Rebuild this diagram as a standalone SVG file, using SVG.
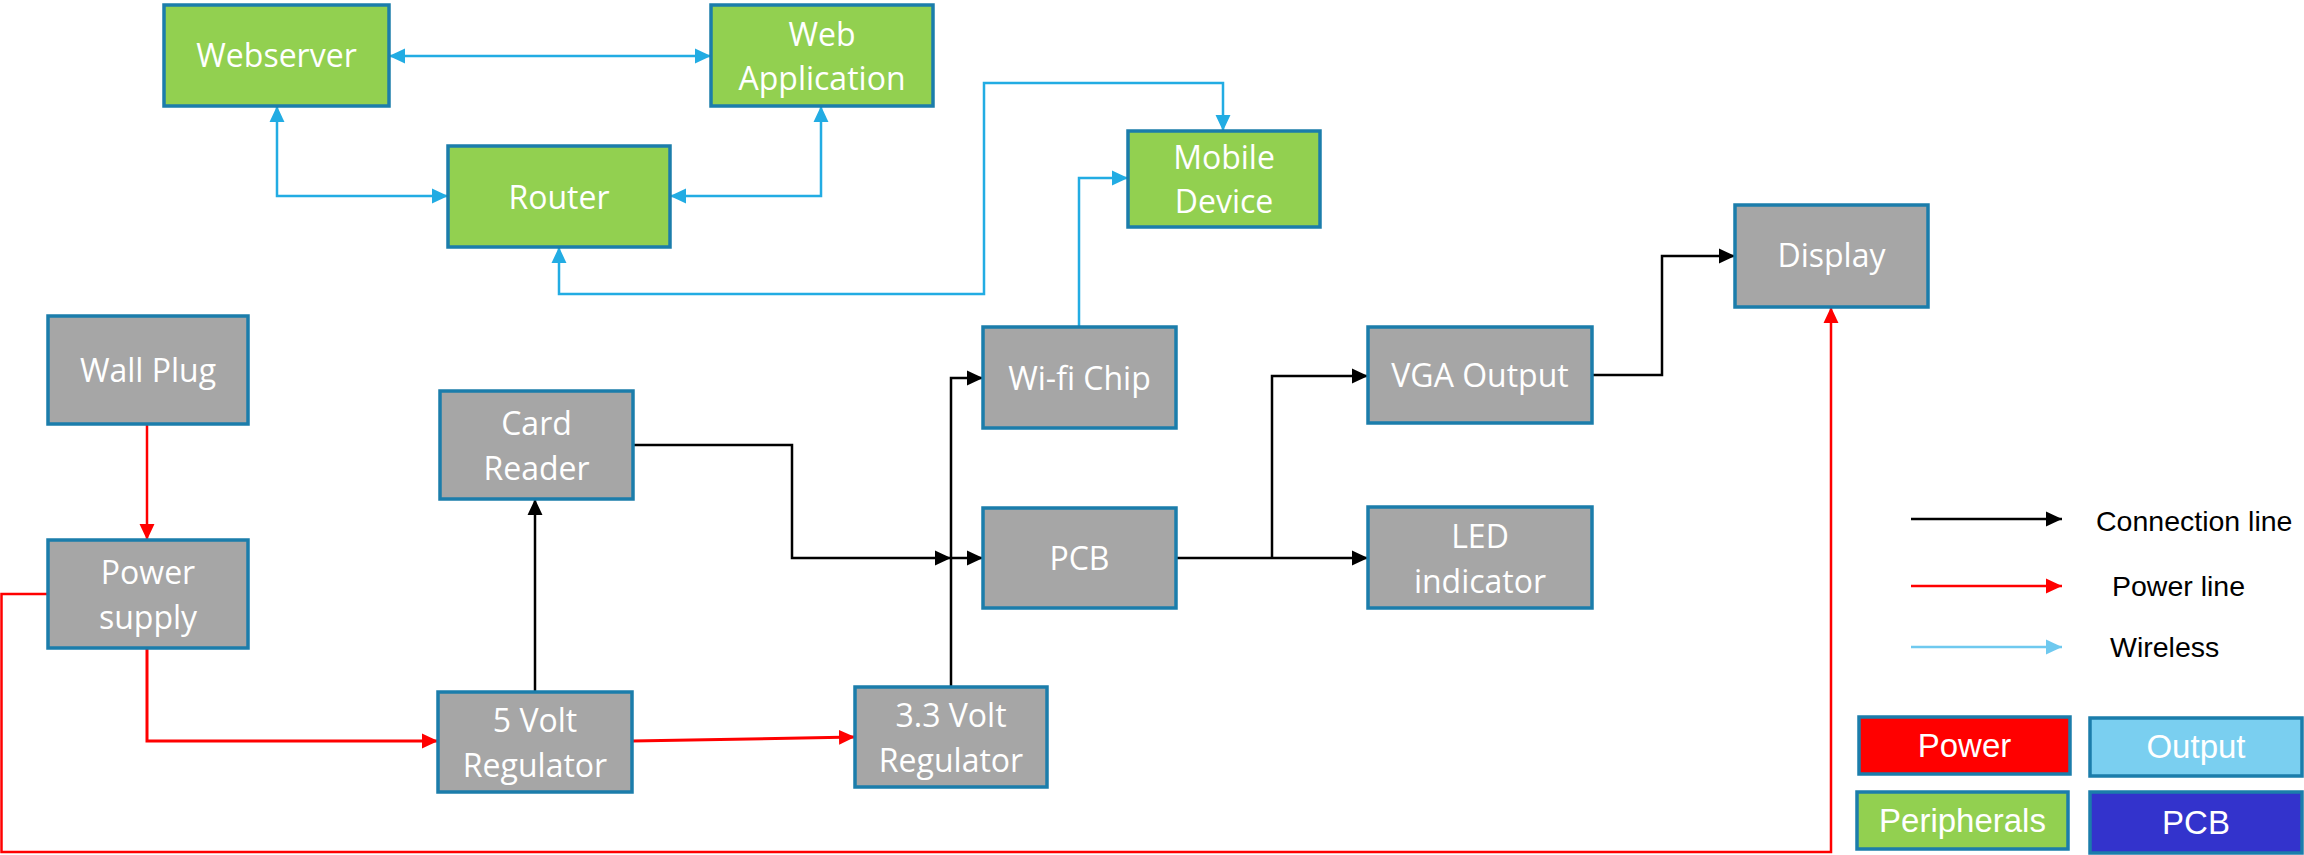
<svg xmlns="http://www.w3.org/2000/svg" width="2304" height="855" viewBox="0 0 2304 855">
<style>
.box{stroke:#1b7dab;stroke-width:3.5}
.grey{fill:#a6a6a6}
.green{fill:#92d050}
.nt{font-family:"Open Sans","Noto Sans",sans-serif;font-size:32px;fill:#ffffff;text-anchor:middle}
.lt{font-family:"Liberation Sans",Arial,sans-serif;font-size:28.5px;fill:#000000}
.kt{font-family:"Liberation Sans",Arial,sans-serif;font-size:33px;fill:#ffffff;text-anchor:middle}
.c{fill:none;stroke-linejoin:miter}
.bk{stroke:#000000;stroke-width:2.5;marker-end:url(#ak)}
.rd{stroke:#ff0000;stroke-width:2.5;marker-end:url(#ar)}
.bl{stroke:#22ace3;stroke-width:2.5;marker-end:url(#ab)}
.bl2{stroke:#22ace3;stroke-width:2.5;marker-end:url(#ab);marker-start:url(#ab)}
</style>
<defs>
<marker id="ak" markerUnits="userSpaceOnUse" markerWidth="16" markerHeight="16" viewBox="0 0 15 14" refX="15" refY="7" orient="auto-start-reverse"><path d="M0,0 L15,7 L0,14 Z" fill="#000000"/></marker>
<marker id="ar" markerUnits="userSpaceOnUse" markerWidth="16" markerHeight="16" viewBox="0 0 15 14" refX="15" refY="7" orient="auto-start-reverse"><path d="M0,0 L15,7 L0,14 Z" fill="#ff0000"/></marker>
<marker id="ab" markerUnits="userSpaceOnUse" markerWidth="16" markerHeight="16" viewBox="0 0 15 14" refX="15" refY="7" orient="auto-start-reverse"><path d="M0,0 L15,7 L0,14 Z" fill="#22ace3"/></marker>
<marker id="alb" markerUnits="userSpaceOnUse" markerWidth="16" markerHeight="16" viewBox="0 0 15 14" refX="15" refY="7" orient="auto"><path d="M0,0 L15,7 L0,14 Z" fill="#6fc9ef"/></marker>
</defs>
<rect width="2304" height="855" fill="#ffffff"/>

<g id="connectors">
<path class="c bl2" d="M389,56 H711"/>
<path class="c bl2" d="M277,106 V196 H448"/>
<path class="c bl2" d="M821,106 V196 H670"/>
<path class="c bl2" d="M559,247 V294 H984 V83 H1223 V131"/>
<path class="c bl" d="M1079,327 V178 H1128"/>
<path class="c bk" d="M535,692 V499"/>
<path class="c bk" d="M633,445 H792 V558 H951"/>
<path class="c bk" d="M951,687 V378 H983"/>
<path class="c bk" d="M951,558 H983"/>
<path class="c bk" d="M1176,558 H1368"/>
<path class="c bk" d="M1272,558 V376 H1368"/>
<path class="c bk" d="M1592,375 H1662 V256 H1735"/>
<path class="c rd" d="M147,424 V540"/>
<path class="c rd" d="M147,648 V741 H438" style="stroke-width:3"/>
<path class="c rd" d="M632,741 L855,737" style="stroke-width:3"/>
<path class="c rd" d="M48,594 H1.5 V852 H1831 V307"/>
</g>

<g id="webserver"><rect class="box green" x="164" y="5" width="225" height="101"/><text class="nt" x="276.5" y="67">Webserver</text></g>
<g id="web-application"><rect class="box green" x="711" y="5" width="222" height="101"/><text class="nt" x="822" y="45.5">Web</text><text class="nt" x="822" y="90">Application</text></g>
<g id="router"><rect class="box green" x="448" y="146" width="222" height="101"/><text class="nt" x="559" y="208.5">Router</text></g>
<g id="mobile-device"><rect class="box green" x="1128" y="131" width="192" height="96"/><text class="nt" x="1224" y="168.5">Mobile</text><text class="nt" x="1224" y="213">Device</text></g>
<g id="display"><rect class="box grey" x="1735" y="205" width="193" height="102"/><text class="nt" x="1831.5" y="267">Display</text></g>
<g id="wall-plug"><rect class="box grey" x="48" y="316" width="200" height="108"/><text class="nt" x="148" y="382">Wall Plug</text></g>
<g id="power-supply"><rect class="box grey" x="48" y="540" width="200" height="108"/><text class="nt" x="148" y="584">Power</text><text class="nt" x="148" y="628.5">supply</text></g>
<g id="card-reader"><rect class="box grey" x="440" y="391" width="193" height="108"/><text class="nt" x="536.5" y="434.5">Card</text><text class="nt" x="536.5" y="479.5">Reader</text></g>
<g id="regulator-5v"><rect class="box grey" x="438" y="692" width="194" height="100"/><text class="nt" x="535" y="731.5">5 Volt</text><text class="nt" x="535" y="776.5">Regulator</text></g>
<g id="regulator-3v3"><rect class="box grey" x="855" y="687" width="192" height="100"/><text class="nt" x="951" y="726.5">3.3 Volt</text><text class="nt" x="951" y="771.5">Regulator</text></g>
<g id="wifi-chip"><rect class="box grey" x="983" y="327" width="193" height="101"/><text class="nt" x="1079.5" y="390">Wi-fi Chip</text></g>
<g id="pcb"><rect class="box grey" x="983" y="508" width="193" height="100"/><text class="nt" x="1079.5" y="570">PCB</text></g>
<g id="vga-output"><rect class="box grey" x="1368" y="327" width="224" height="96"/><text class="nt" x="1480" y="387">VGA Output</text></g>
<g id="led-indicator"><rect class="box grey" x="1368" y="507" width="224" height="101"/><text class="nt" x="1480" y="547.5">LED</text><text class="nt" x="1480" y="592.5">indicator</text></g>

<g id="legend">
<path d="M1911,519 H2062" stroke="#000000" stroke-width="2.5" fill="none" marker-end="url(#ak)"/>
<path d="M1911,586 H2062" stroke="#ff0000" stroke-width="2.5" fill="none" marker-end="url(#ar)"/>
<path d="M1911,647 H2062" stroke="#6fc9ef" stroke-width="2.5" fill="none" marker-end="url(#alb)"/>
<text class="lt" x="2096" y="531">Connection line</text>
<text class="lt" x="2112" y="596">Power line</text>
<text class="lt" x="2110" y="657">Wireless</text>
<g id="key-power"><rect class="box" fill="#ff0000" x="1859" y="717" width="211" height="57"/><text class="kt" x="1964.5" y="757">Power</text></g>
<g id="key-output"><rect class="box" fill="#7acff0" x="2090" y="718" width="212" height="58"/><text class="kt" x="2196" y="758">Output</text></g>
<g id="key-peripherals"><rect class="box" fill="#92d050" x="1857" y="792" width="211" height="57"/><text class="kt" x="1962.5" y="832">Peripherals</text></g>
<g id="key-pcb"><rect class="box" fill="#3333cc" x="2090" y="792" width="212" height="61"/><text class="kt" x="2196" y="834">PCB</text></g>
</g>
</svg>
